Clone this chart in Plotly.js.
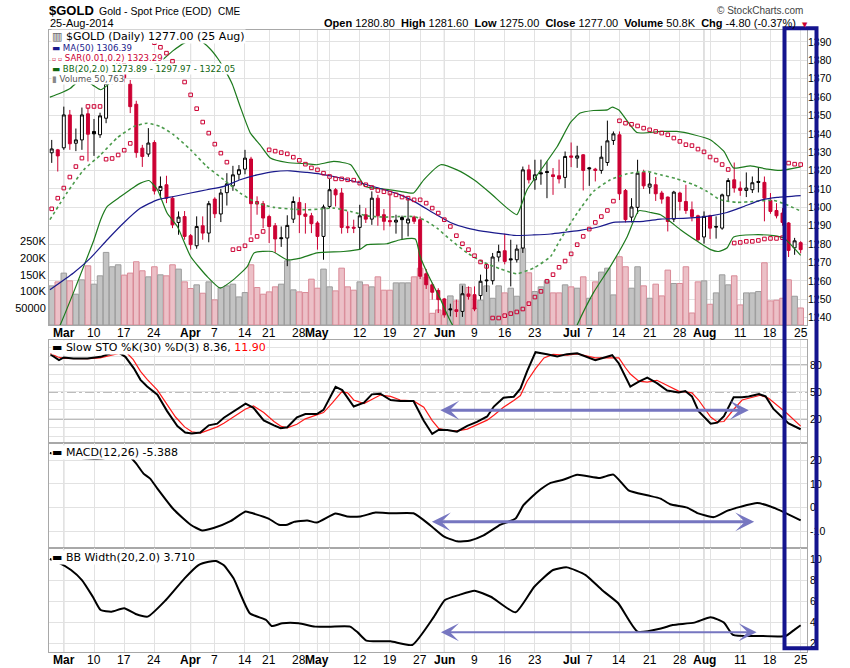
<!DOCTYPE html>
<html><head><meta charset="utf-8">
<script src="https://cdn.plot.ly/plotly-3.0.1.min.js"></script>
<style>html,body{margin:0;padding:0;background:#fff;}#chart{width:850px;height:668px;}</style>
</head><body><div id="chart"></div>
<script>
// ---------- DATA ----------
// trading days Feb 27 2014 .. Aug 25 2014, index 0..124
const opens = [1329.7,1331.3,1332.4,1350.3,1334.9,1336.7,1350.9,1341.3,1339.5,1348.5,
1368.0,1370.0,1381.0,1367.0,1356.1,1332.2,1329.0,1335.3,1309.2,1312.3,
1305.0,1291.8,1295.0,1284.6,1279.1,1290.0,1286.0,1304.5,1296.4,1308.0,
1311.7,1318.0,1320.8,1326.3,1303.2,1302.0,1295.0,1290.0,1283.5,1283.3,
1293.6,1302.7,1296.4,1295.4,1291.5,1284.2,1300.5,1309.6,1307.8,1289.5,
1289.2,1289.1,1296.0,1293.6,1305.0,1296.0,1292.8,1292.0,1294.5,1291.5,
1294.7,1293.3,1263.9,1257.9,1254.8,1250.2,1244.8,1244.3,1243.4,1252.9,
1252.5,1252.0,1260.5,1260.1,1273.0,1276.4,1272.0,1271.5,1277.9,1320.4,
1315.0,1318.8,1319.5,1317.7,1317.2,1316.3,1328.0,1326.8,1328.6,1321.5,
1320.8,1320.1,1324.4,1336.4,1339.5,1309.2,1294.7,1300.0,1319.0,1311.0,
1312.3,1307.8,1305.6,1293.6,1307.8,1303.2,1298.7,1295.4,1283.9,1295.4,
1289.6,1288.7,1306.3,1315.0,1310.5,1309.2,1309.6,1314.1,1313.6,1303.8,
1298.3,1296.9,1291.5,1278.0,1280.8];
const highs = [1336.7,1331.8,1354.8,1353.0,1342.9,1354.3,1354.3,1348.1,1351.5,1369.0,
1376.0,1385.0,1392.0,1369.3,1358.0,1334.0,1343.1,1336.5,1316.8,1317.2,
1306.0,1297.8,1298.0,1285.5,1295.1,1295.1,1303.5,1305.5,1310.0,1318.6,
1322.6,1323.0,1331.3,1327.5,1306.0,1303.5,1296.0,1291.5,1289.6,1295.7,
1305.9,1305.5,1302.3,1297.0,1292.5,1301.5,1315.4,1310.5,1310.5,1297.8,
1293.3,1301.4,1299.6,1308.7,1306.8,1299.1,1307.8,1296.0,1295.5,1305.0,
1295.5,1295.0,1266.5,1259.0,1256.0,1250.7,1247.6,1249.8,1257.4,1257.0,
1257.0,1263.4,1268.8,1275.2,1279.7,1285.7,1282.4,1279.7,1322.2,1323.2,
1325.9,1326.0,1325.0,1321.4,1326.0,1330.4,1335.3,1333.5,1329.0,1322.0,
1321.5,1333.5,1347.2,1341.3,1341.3,1310.0,1305.0,1325.9,1320.5,1319.0,
1316.5,1309.0,1305.9,1309.0,1308.5,1312.3,1303.2,1296.0,1297.8,1296.0,
1295.1,1307.5,1315.9,1324.4,1314.1,1319.0,1316.8,1321.9,1316.8,1307.8,
1302.3,1299.6,1292.0,1283.4,1281.6];
const lows = [1324.2,1319.5,1331.3,1331.3,1330.6,1331.3,1325.0,1328.0,1337.8,1345.8,
1367.0,1368.0,1368.0,1351.3,1327.0,1322.0,1327.5,1307.0,1305.0,1302.3,
1288.7,1285.1,1282.4,1277.0,1277.5,1282.4,1281.0,1294.2,1292.0,1301.0,
1309.0,1315.0,1318.0,1284.9,1296.0,1288.7,1280.6,1275.2,1278.5,1268.0,
1291.5,1286.0,1285.7,1286.0,1277.0,1271.5,1299.5,1300.5,1285.7,1286.0,
1286.0,1277.0,1291.5,1290.5,1290.0,1287.5,1289.6,1285.7,1282.4,1284.2,
1291.0,1261.0,1255.6,1249.8,1242.5,1240.0,1240.7,1240.3,1240.4,1249.8,
1243.5,1249.8,1254.0,1258.0,1270.5,1269.0,1257.0,1270.0,1275.2,1313.0,
1309.6,1312.3,1305.0,1306.8,1313.0,1310.5,1321.9,1321.5,1309.2,1311.7,
1314.1,1318.3,1322.6,1334.0,1304.0,1291.8,1291.8,1296.5,1310.0,1307.4,
1303.5,1302.0,1286.9,1292.0,1298.3,1296.5,1292.4,1281.5,1280.3,1282.8,
1283.0,1287.8,1303.2,1308.0,1306.3,1305.6,1307.8,1308.1,1292.4,1296.5,
1294.0,1290.0,1273.0,1274.2,1275.0];
const closes = [1331.8,1328.0,1350.3,1334.6,1336.7,1350.3,1339.8,1340.0,1349.8,1367.5,
1370.5,1379.5,1370.5,1354.8,1329.8,1327.7,1335.0,1308.9,1311.4,1305.0,
1290.5,1294.7,1284.2,1279.7,1289.6,1286.0,1302.0,1296.5,1307.8,1312.8,
1317.7,1320.5,1326.8,1302.0,1301.8,1294.2,1289.6,1282.8,1283.0,1290.2,
1303.2,1296.0,1295.1,1291.1,1284.2,1300.2,1309.6,1306.8,1289.1,1288.9,
1288.7,1295.4,1293.6,1305.0,1295.4,1292.4,1292.2,1293.0,1293.3,1293.6,
1292.4,1262.5,1257.9,1253.8,1249.8,1241.6,1244.3,1243.4,1253.0,1251.6,
1244.7,1259.8,1260.1,1273.0,1276.0,1270.6,1271.5,1277.3,1320.4,1315.0,
1317.7,1318.3,1319.0,1316.8,1315.5,1327.7,1327.3,1328.0,1320.1,1321.0,
1320.1,1327.3,1336.2,1340.0,1307.4,1293.3,1300.2,1318.6,1311.7,1312.7,
1307.4,1304.5,1292.3,1308.3,1303.2,1298.3,1295.0,1282.4,1295.1,1288.7,
1289.3,1306.8,1314.6,1310.5,1309.2,1310.5,1313.4,1313.6,1305.0,1297.8,
1295.4,1291.8,1276.6,1281.8,1277.0];
// volume in thousands
const volumes = [116.8,128.7,154.8,131.7,91.9,134.7,176.6,121.8,146.7,216.5,
173.7,179.6,148.8,154.8,188.6,161.7,143.7,173.7,149.7,146.7,
179.6,166.7,128.7,108.8,119.8,94.8,128.7,74.9,111.8,116.8,
121.8,83.8,96.8,179.6,111.8,91.9,98.8,113.8,121.8,191.6,
104.8,98.8,96.8,136.7,109.8,166.7,113.8,101.8,169.6,113.8,
103.8,128.7,119.8,113.8,143.7,103.8,103.8,125.7,125.7,125.7,
143.7,169.6,141.7,34.9,45,30,86.8,71.9,121.8,111.8,
49.9,73.9,116.8,79.8,116.8,95.8,109.8,85.8,228.5,155.7,
99.8,113.8,131.7,95.8,95.8,119.8,113.8,109.8,143.7,79.8,
128.7,157.7,169.6,89.8,203.6,173.7,109.8,173.7,116.8,79.8,
121.8,86.8,163.7,123.8,123.8,173.7,35.9,128.7,131.7,61.9,
95.8,149.7,119.8,146.7,59.9,95.8,95.8,99.8,185.6,71.9,
73.9,79.8,134.7,85.8,50.763];
// Parabolic SAR, one per day
const sar = [1299.2,1305.0,1310.5,1316.5,1322.2,1326.8,1354.9,1354.9,1354.9,1326.2,
1326.6,1328.5,1331.1,1334.8,1392.0,1391.5,1390.8,1389.6,1387.1,1383.9,
1379.5,1374.0,1368.2,1361.2,1353.7,1346.4,1340.4,1334.4,1329.5,1324.6,
1277.0,1277.5,1279.1,1282.4,1284.2,1286.9,1331.3,1330.6,1329.8,1329.1,
1327.3,1325.6,1323.5,1321.5,1320.4,1318.6,1316.8,1315.5,1315.5,1315.0,
1314.8,1313.2,1312.3,1310.8,1309.2,1308.5,1307.8,1306.8,1305.6,1305.0,
1304.1,1304.1,1302.3,1299.6,1296.9,1293.3,1289.6,1284.6,1280.2,1277.0,
1273.7,1270.3,1267.9,1239.8,1239.8,1241.1,1242.2,1243.1,1244.7,1247.6,
1251.2,1254.3,1259.8,1263.4,1267.4,1270.8,1274.7,1279.7,1284.2,1288.2,
1291.8,1295.0,1298.3,1303.4,1347.1,1345.8,1345.2,1344.3,1343.1,1342.2,
1341.3,1340.4,1339.5,1337.7,1335.9,1334.1,1333.6,1331.7,1330.2,1327.4,
1325.7,1323.3,1320.6,1280.6,1280.9,1281.5,1281.5,1282.0,1282.8,1283.1,
1283.1,1283.5,1324.1,1323.5,1323.29];
// indicator lines, read at day positions
const maX = [-0.3,3.6,6.4,9.2,11.9,14.7,17.5,20.2,23,25.7,28.5,31.2,34,36.8,39.5,42.3,44.5,46.7,52.2,57.7,60.5,63.2,66,68.8,71.5,74.3,77,79.8,82.6,85.3,87.5,90.8,93,98,100.8,105.2,109.1,111.8,114.6,117.3,120.1,124];
const maV = [1255.2,1264.3,1272.4,1282.4,1291.5,1299.6,1304.1,1305.9,1307.8,1309.6,1311.4,1315,1317.7,1319.5,1319.9,1319,1318.1,1316.8,1312.3,1306.8,1302.3,1296.9,1291.8,1288.7,1286.9,1285.7,1284.7,1285,1285.5,1286.6,1287.5,1289.6,1291.8,1292.4,1293.6,1294.2,1295.4,1297.2,1300.5,1303.8,1305.4,1306.39];
const bbUpX = [-0.3,1.4,3.1,5,6.8,8.1,9.9,12,14,15.9,18.3,20,22,24,26,27.5,28.8,29.9,31.2,32.9,34.5,36.2,39,42.3,43.9,46.7,49.5,51.9,55,57.7,59.9,61.6,64.4,67.1,69.9,72.6,75.4,77,78.7,81,83.7,85.9,87.5,89.7,92,92.8,93.9,96.9,100.8,103.5,106.3,109.1,111.3,112.9,115.7,118.5,120.7,124];
const bbUpV = [1360,1362.1,1364.8,1370,1366.5,1364,1368.4,1376,1376,1376.3,1380.2,1385,1389.5,1392,1387,1381,1374,1367,1354.9,1340.4,1334,1326.8,1324.4,1323.7,1323.2,1325,1323.2,1311.4,1310,1308.7,1307.8,1315,1323.2,1320.4,1315,1307.8,1299.6,1296,1309.6,1320.4,1333.1,1346.2,1351.3,1352.7,1353,1354.5,1353,1340.7,1341.3,1341.3,1339.5,1336.7,1330.4,1321.4,1322.6,1320.8,1320.1,1322.05];
const bbMidX = [-0.3,2.5,5.3,8.1,10.8,13.6,15.8,18,20.2,23,25.7,28.5,31.2,34,36.8,39.5,42.3,44.5,46.7,49.5,52.2,55,57.7,59.9,61.6,63.8,66,68.8,71.5,74.3,77,79.8,82.6,84.2,87,89.7,92.5,95.3,98.6,100.8,103.5,106.3,108.5,110.7,113.5,116.2,119.5,121.7,124];
const bbMidV = [1293.3,1307.8,1320.4,1328.6,1337.7,1344,1345.8,1344,1339.5,1331.3,1322.2,1315,1307.8,1302.3,1300,1299.1,1298.7,1299.1,1299.6,1297.8,1295.4,1294.7,1295,1295,1293.3,1288.7,1282.4,1275.2,1270.1,1266.5,1263.9,1267,1273.3,1282.4,1296.9,1308.7,1315,1318.3,1319.5,1317.7,1315.5,1312.3,1308.7,1304.1,1302.7,1303.2,1303.8,1301.4,1297.97];
const bbLoX = [-0.3,1.4,3.6,5.3,7,8.1,9.2,11.4,13.6,14.7,16.1,17.5,19.1,20.8,23,25.7,27.9,30.1,32.4,33.5,36.5,39,41.2,43.9,48.3,51.1,52.2,55.5,57.7,60.2,61,62.7,64.4,66.6,70,74,77,79,82,85,87,89.7,92.5,95.3,97.2,99.1,100.8,102.4,104.1,106.9,109.1,110.4,111.8,112.9,116.2,119.5,121.2,124];
const bbLoV = [1225,1236,1253.6,1267.9,1282.4,1293.3,1300.5,1305.9,1311,1313.2,1314.6,1309.6,1296.9,1289.6,1273.3,1262.5,1256.1,1260.7,1267.9,1275.2,1276,1271.5,1272.4,1275.2,1276,1277.3,1279.7,1280.2,1282.4,1282.8,1273.3,1260.7,1249.8,1235,1232,1231,1231,1220,1214,1220,1236,1253.6,1267.9,1284.2,1298.2,1297.2,1296,1292.3,1287.8,1281.5,1277,1276,1277.9,1283.9,1285.1,1284.6,1283.3,1273.89];
const stoKX = [-0.2,1.2,2,3.6,5.9,8.1,9.7,11.1,12.2,13.6,14.7,15.8,17.5,19.1,20.8,22.1,23.2,24.6,26,27.4,28.5,30.1,32.1,33.4,35.1,36.8,37.9,39,40.6,42,43.9,45,47,48.1,50,51.7,53,54.4,56.1,57.7,59.9,61.6,63,64.1,65.5,67.1,68.8,70.4,72.1,73.2,74.8,76.5,77.6,78.7,80.1,82,83.7,85.3,87,90,92.8,93.9,95.8,97.2,98.6,100.2,101.9,103.8,104.9,106,107.1,109.1,110.2,111.3,112.9,114.3,115.4,117.1,118.2,119.5,120.9,122,124];
const stoKV = [91.8,85.5,88.5,87.4,87.4,89.2,92.9,94,89.2,76.4,63.5,56.1,47,28.6,12,4.7,3.6,4.7,12.7,14.6,21.2,27.8,37,32.2,18.2,12.7,9.5,10.6,21.6,25.3,25.3,30,55.8,52.1,33.7,38.1,47.3,48,41,39.9,39.9,17.8,3.1,7.8,7.5,5.6,12.2,16.6,22.6,33.7,43.6,44.7,53.6,73,94.4,92.2,89.6,92.2,93.2,85.5,91,81.8,56,61.6,66,59.8,51.6,49.4,51,45,28.5,14.6,15.7,23,44,44,45,47.7,45,31,22.2,14.9,8.36];
const stoDX = [-0.2,1,2,4,6,8,10,11.5,12.5,13.5,14.7,15.8,17.5,19,20.5,22,23.2,24.6,26,27.4,28.5,30.1,32.1,33.4,35.1,36.8,38,39,40.6,42,43.9,45,46.5,48,49,50,51.7,53,54.4,56.1,57.7,59.9,61.6,63,64.1,65.5,67.1,68.8,70.4,72.1,73.2,74.8,76.5,77.6,78.7,80.1,81.5,83,85.3,87,90,92.8,93.9,95,95.8,97.2,98.6,100.2,101.9,103.8,104.9,106,107.1,108.1,109.1,110.2,111.3,112.9,114.3,115.4,117.3,118.7,120.1,121.8,124];
const stoDV = [93,89,87.5,87.4,87.2,88,91,93.5,93,86,73,64,52,37,22,11,5.5,4,7.5,11,15,22,31,34.5,27,17,11.5,10,14,20,24,27,38,50,49,41,37,42,46.5,45,41,40,33,18,9,7,6.5,8.5,13,18.5,24,33,40.5,46,62,76,88,92,91,92.5,88,88.5,88,77,70,62,61,63,57,51,50,49,41,32,22,16.5,17,30.4,41,43,46.3,43,35,25.6,11.9];
const macdX = [-0.3,3,5.3,7.5,9.5,11.5,12.7,14,15.2,16.3,17.5,20.2,23,24.9,26.8,29.6,32.1,33.4,35.9,37.6,39,40.1,42.3,43.9,47,48.9,51.1,53.6,56.1,59.9,62.7,64.9,67.1,69.3,71.5,74.3,76.8,78.1,80.4,82.6,84.8,87,90.8,93,95.5,98.6,100.8,102.4,105.2,106.9,109.6,111.8,114,116.8,119,121.2,124];
const macdV = [23,21.5,20.8,20.5,21.2,22.5,22,18.5,14.3,12.2,8,-0.8,-7.2,-9.6,-8.6,-5.7,-1.6,-2.5,-4.6,-7.2,-7.2,-6,-5.4,-6.3,-2.5,-3.7,-3.7,-2.1,-2.4,-2.4,-7.5,-12.1,-14.2,-13.8,-11.7,-7.2,-4.6,1,6.6,10.4,11.8,13.8,12.5,13.9,7.3,5.2,3.8,1.4,0,-2.3,-4,-1.4,0.3,1.9,0.5,-1.9,-5.388];
const bbwX = [-0.3,0.9,3.2,5,6.8,8.1,9.9,12,13.9,15.9,18.9,22,24.3,26,27.2,28.5,30.1,32.8,35.5,36.4,38.2,40.9,43.6,46.2,49.4,50.7,52.1,56.1,59.7,63.3,65.1,67.5,70,72.7,76.8,79.9,83,85.3,88.4,91.1,93.8,97,101,102.8,106.4,109.1,111.3,112.8,117.1,121.5,123,124];
const bbwV = [10.0,9.74,8.96,8,6.42,5.16,5,5.32,4.78,4.53,6.11,8.17,9.43,9.75,9.81,9.4,8.17,4.85,4.21,3.64,3.9,3.9,3.58,3.58,3.58,3.01,2.25,2.19,1.84,4.53,6.11,6.6,6.99,6.42,4.94,7.37,8.96,9.21,8.48,7.06,5.8,3.1,3.42,3.74,3.96,4.47,3.96,2.79,2.69,2.69,3.3,3.71];
// date axis
const tickIdx  = [2,7,12,17,23,27,32,36,41,44,46,51,56,61,65,70,75,80,86,89,94,99,104,108,109,114,119,124];
const tickText = ['<b>Mar</b>','10','17','24','<b>Apr</b>','7','14','21','28','<b>May</b>','','12','19','27','<b>Jun</b>','9','16','23','<b>Jul</b>','7','14','21','28','<b>Aug</b>','','11','18','25'];
const monthIdx = [2,23,44,65,86,108];
const priceTicks = [1240,1250,1260,1270,1280,1290,1300,1310,1320,1330,1340,1350,1360,1370,1380,1390];
const volTicks = [50,100,150,200,250];
const volTickText = ['50000','100K','150K','200K','250K'];
// annotation arrows (day index from -> to, level)
const stoArrow  = {from: 64.1, to: 115.4, level: 29.6};
const macdArrow = {from: 62.7, to: 116.3, level: -6.0};
const bbwArrow  = {from: 64.2, to: 116.7, level: 3.05};

// ---------- BUILD ----------
const RED = '#cc0033', NAVY = '#1a1a8c', GREEN = '#1d7a1d';
const N = closes.length;
const idx = Array.from({length: N}, (_, i) => i);
const upDay = idx.map(i => i === 0 || closes[i] > closes[i - 1]);
const pick = (arr, cond) => idx.filter(i => upDay[i] === cond).map(i => arr[i]);

const PL = 49, PR = 807, PT = 30, PB = 652;
const px = v => (v - PL) / (PR - PL);
const py = v => (PB - v) / (PB - PT);

const traces = [];
traces.push({type: 'bar', x: idx, y: volumes, xaxis: 'x', yaxis: 'y', width: 0.92,
  marker: {color: idx.map(i => upDay[i] ? '#c3c3c3' : '#ecc0c7'),
           line: {color: idx.map(i => upDay[i] ? '#9c9c9c' : '#d98a97'), width: 1}},
  hoverinfo: 'skip'});
traces.push({type: 'scatter', mode: 'lines', x: bbUpX, y: bbUpV, xaxis: 'x', yaxis: 'y2',
  line: {color: GREEN, width: 1.2, shape: 'spline', smoothing: 0.5}});
traces.push({type: 'scatter', mode: 'lines', x: bbLoX, y: bbLoV, xaxis: 'x', yaxis: 'y2',
  line: {color: GREEN, width: 1.2, shape: 'spline', smoothing: 0.5}});
traces.push({type: 'scatter', mode: 'lines', x: bbMidX, y: bbMidV, xaxis: 'x', yaxis: 'y2',
  line: {color: '#4a9a4a', width: 1.6, dash: 'dot', shape: 'spline', smoothing: 0.5}});
traces.push({type: 'scatter', mode: 'lines', x: maX, y: maV, xaxis: 'x', yaxis: 'y2',
  line: {color: NAVY, width: 1.2, shape: 'spline', smoothing: 0.5}});
traces.push({type: 'candlestick', x: pick(idx, true), open: pick(opens, true), high: pick(highs, true),
  low: pick(lows, true), close: pick(closes, true), xaxis: 'x', yaxis: 'y2', whiskerwidth: 0,
  increasing: {line: {color: '#000', width: 1}, fillcolor: '#ffffff'},
  decreasing: {line: {color: '#000', width: 1}, fillcolor: '#000'}, hoverinfo: 'skip'});
traces.push({type: 'candlestick', x: pick(idx, false), open: pick(opens, false), high: pick(highs, false),
  low: pick(lows, false), close: pick(closes, false), xaxis: 'x', yaxis: 'y2', whiskerwidth: 0,
  increasing: {line: {color: RED, width: 1}, fillcolor: '#ffffff'},
  decreasing: {line: {color: RED, width: 1}, fillcolor: RED}, hoverinfo: 'skip'});
traces.push({type: 'scatter', mode: 'markers', x: idx, y: sar, xaxis: 'x', yaxis: 'y2',
  marker: {symbol: 'square-open', size: 3.6, color: RED, line: {color: RED, width: 1}}});
// STO
traces.push({type: 'scatter', mode: 'lines', x: stoDX, y: stoDV, xaxis: 'x2', yaxis: 'y3',
  line: {color: '#ff1a1a', width: 1.2}});
traces.push({type: 'scatter', mode: 'lines', x: stoKX, y: stoKV, xaxis: 'x2', yaxis: 'y3',
  line: {color: '#000', width: 2}});
// MACD
traces.push({type: 'scatter', mode: 'lines', x: macdX, y: macdV, xaxis: 'x3', yaxis: 'y4',
  line: {color: '#000', width: 2, shape: 'spline', smoothing: 0.5}});
// BB width
traces.push({type: 'scatter', mode: 'lines', x: bbwX, y: bbwV, xaxis: 'x4', yaxis: 'y5',
  line: {color: '#000', width: 2, shape: 'spline', smoothing: 0.5}});

const GRID = '#e2e2e2', FRAME = '#a8a8a8';
const tickFont = {family: 'Liberation Sans, Arial, sans-serif', size: 10.5, color: '#000'};
const xBase = {tickmode: 'array', tickvals: tickIdx, ticktext: tickText, showgrid: true, gridcolor: GRID,
  zeroline: false, showline: true, mirror: true, linecolor: FRAME, ticks: '', showticklabels: false, fixedrange: true};
const yBase = {side: 'right', showgrid: true, gridcolor: GRID, zeroline: false, showline: true,
  mirror: true, linecolor: FRAME, ticks: '', tickfont: tickFont, fixedrange: true};

const layout = {
  width: 850, height: 668, margin: {l: PL, r: 850 - PR, t: PT, b: 668 - PB},
  paper_bgcolor: '#fff', plot_bgcolor: '#fff', showlegend: false, hovermode: false,
  xaxis: Object.assign({}, xBase, {domain: [0, 1], anchor: 'y', range: [-0.45, 125.05], rangeslider: {visible: false}}),
  xaxis2: Object.assign({}, xBase, {anchor: 'y3', matches: 'x'}),
  xaxis3: Object.assign({}, xBase, {anchor: 'y4', matches: 'x'}),
  xaxis4: Object.assign({}, xBase, {anchor: 'y5', matches: 'x'}),
  yaxis: {domain: [py(325), 1], anchor: 'x', side: 'left', range: [0, 880], tickmode: 'array',
    tickvals: volTicks, ticktext: volTickText, showgrid: false, zeroline: false, showline: true, mirror: true,
    linecolor: FRAME, ticks: '', tickfont: {family: 'Liberation Sans, Arial, sans-serif', size: 11, color: '#000'}, fixedrange: true},
  yaxis2: Object.assign({}, yBase, {overlaying: 'y', anchor: 'x', range: [1236, 1396.5], tickmode: 'array',
    tickvals: priceTicks, showline: false}),
  yaxis3: Object.assign({}, yBase, {domain: [py(443), py(340)], anchor: 'x2', range: [-7, 108], tickmode: 'array',
    tickvals: [0,10,20,30,40,50,60,70,80,90,100], ticktext: ['','','20','','','50','','','80','','']}),
  yaxis4: Object.assign({}, yBase, {domain: [py(548), py(443)], anchor: 'x3', range: [-17, 27.2], tickmode: 'array',
    tickvals: [-10, 0, 10, 20], ticktext: ['-10', '0', '10', '20']}),
  yaxis5: Object.assign({}, yBase, {domain: [0, py(548)], anchor: 'x4', range: [1.17, 11.05], tickmode: 'array',
    tickvals: [2, 4, 6, 8, 10]}),
  shapes: [], annotations: []
};

// month separator lines
monthIdx.forEach(m => {
  ['y', 'y3', 'y4', 'y5'].forEach((r, k) => {
    layout.shapes.push({type: 'line', xref: ['x', 'x2', 'x3', 'x4'][k], yref: r + ' domain', x0: m, x1: m, y0: 0, y1: 1,
      line: {color: '#bdbdbd', width: 1}, layer: 'below'});
  });
});
// STO reference levels
[[80, 'solid'], [20, 'solid'], [50, 'dashdot']].forEach(([lv, d]) => {
  layout.shapes.push({type: 'line', xref: 'x2 domain', yref: 'y3', x0: 0, x1: 1, y0: lv, y1: lv,
    line: {color: '#7a7a7a', width: 1.3, dash: d}, layer: 'below'});
});
// navy highlight rectangle
layout.shapes.push({type: 'rect', xref: 'paper', yref: 'paper', x0: px(784.5), x1: px(816.5), y0: py(648.3), y1: py(28.3),
  line: {color: '#14148e', width: 4}, fillcolor: 'rgba(0,0,0,0)', layer: 'above'});

const A = layout.annotations;
const ann = (x, y, text, font, extra) => A.push(Object.assign({xref: 'paper', yref: 'paper', x: px(x), y: py(y), text: text,
  showarrow: false, xanchor: 'left', yanchor: 'middle', font: font}, extra || {}));
const SANS = 'Liberation Sans, Arial, sans-serif', DJ = 'DejaVu Sans, Verdana, sans-serif';
// date labels under the price panel and under the bottom panel
tickIdx.forEach((t, k) => {
  if (!tickText[k]) return;
  [333.5, 660].forEach(yy => A.push({xref: 'x', yref: 'paper', x: t, y: py(yy), text: tickText[k], showarrow: false,
    xanchor: 'center', yanchor: 'middle', font: {family: SANS, size: 12, color: '#000'}}));
});
// header
ann(47, 10.5, '<b>$GOLD</b>', {family: SANS, size: 13, color: '#000'});
ann(97, 11, 'Gold - Spot Price (EOD)', {family: SANS, size: 10.5, color: '#000'});
ann(216, 11.5, 'CME', {family: SANS, size: 10, color: '#000'});
ann(48, 23.5, '25-Aug-2014', {family: SANS, size: 11, color: '#000'});
ann(805, 10.5, '© StockCharts.com', {family: SANS, size: 10, color: '#444'}, {xanchor: 'right'});
ann(798, 23.5, '<b>Open</b> 1280.80&nbsp; <b>High</b> 1281.60&nbsp; <b>Low</b> 1275.00&nbsp; <b>Close</b> 1277.00&nbsp; <b>Volume</b> 50.8K&nbsp; <b>Chg</b> -4.80 (-0.37%)',
  {family: SANS, size: 11, color: '#000'}, {xanchor: 'right'});
ann(799.5, 24.5, '▼', {family: DJ, size: 7, color: RED});
// main legend
const bg = {bgcolor: '#ffffff', borderpad: 0};
ann(51, 36.5, '<span style="color:#555">▥</span> $GOLD (Daily) 1277.00 (25 Aug)', {family: DJ, size: 11, color: '#000'}, bg);
ann(51, 47.5, '▬ MA(50) 1306.39', {family: DJ, size: 8.6, color: NAVY}, bg);
ann(51, 58, '<span style="font-size:6px">▫ ▫</span> SAR(0.01,0.2) 1323.29', {family: DJ, size: 8.6, color: RED}, bg);
ann(51, 68.5, '▬ BB(20,2.0) 1273.89 - 1297.97 - 1322.05', {family: DJ, size: 8.6, color: '#116611'}, bg);
ann(51, 79, '<span style="color:#888">▮</span> Volume 50,763', {family: DJ, size: 8.6, color: '#555'}, bg);
// panel legends
ann(51, 347.5, '▬ Slow STO %K(30) %D(3) 8.36, <span style="color:#ff0000">11.90</span>', {family: DJ, size: 11, color: '#000'}, bg);
ann(51, 452.5, '▬ MACD(12,26) -5.388', {family: DJ, size: 11, color: '#000'}, bg);
ann(51, 557.5, '▬ BB Width(20,2.0) 3.710', {family: DJ, size: 11, color: '#000'}, bg);
// double arrows
const arrow = (xr, yr, a, w, s) => A.push({xref: xr, yref: yr, axref: xr, ayref: yr, x: a.to, y: a.level, ax: a.from, ay: a.level,
  text: '', showarrow: true, arrowside: 'end+start', arrowhead: 3, startarrowhead: 3, arrowsize: s, startarrowsize: s,
  arrowwidth: w, arrowcolor: '#7676c0', standoff: 0, startstandoff: 0});
arrow('x2', 'y3', stoArrow, 3, 1.05);
arrow('x3', 'y4', macdArrow, 3, 1.05);
arrow('x4', 'y5', bbwArrow, 2, 1.5);

Plotly.newPlot('chart', traces, layout, {staticPlot: true, displayModeBar: false});
</script></body></html>
